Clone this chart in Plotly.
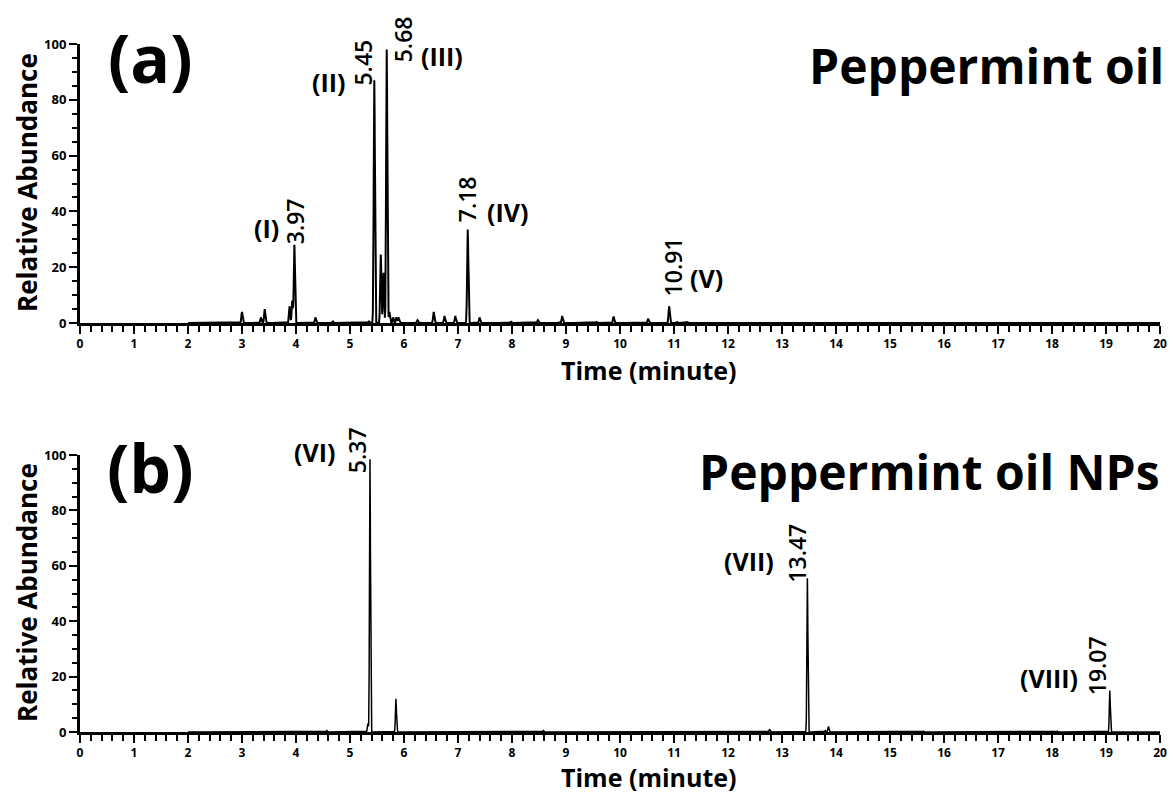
import numpy as np
import plotly.graph_objects as go

# ---------------- data ----------------
# Panel (a): Peppermint oil  (retention time in minutes, relative abundance)
oil_times = [3.00, 3.35, 3.42, 3.88, 3.93, 3.97, 4.36, 4.68, 5.35, 5.45, 5.57, 5.62, 5.68,
             5.73, 5.80, 5.86, 5.90, 6.25, 6.55, 6.75, 6.95, 7.18, 7.40, 7.98, 8.48, 8.93,
             9.57, 9.88, 10.52, 10.91, 11.05, 11.24]
oil_heights = [4.0, 2.0, 5.0, 6.0, 8.0, 28.0, 2.0, 0.6, 0.6, 87.0, 24.5, 18.0, 98.0,
               4.0, 2.0, 2.0, 2.0, 1.0, 4.0, 2.5, 2.5, 33.5, 2.0, 0.5, 1.0, 2.5,
               0.4, 2.3, 1.5, 6.0, 0.4, 0.4]

# Panel (b): Peppermint oil NPs
np_times = [4.57, 5.33, 5.37, 5.85, 8.58, 12.77, 13.47, 13.80, 13.86, 15.62, 18.10, 19.07]
np_heights = [0.5, 3.0, 98.5, 12.0, 0.5, 1.0, 55.5, 0.5, 2.0, 0.3, 0.3, 15.0]

run_start, run_end = 2.0, 20.0

# labelled peaks: retention-time text and compound label
oil_labels = [("3.97", "(I)"), ("5.45", "(II)"), ("5.68", "(III)"), ("7.18", "(IV)"), ("10.91", "(V)")]
np_labels = [("5.37", "(VI)"), ("13.47", "(VII)"), ("19.07", "(VIII)")]

x_ticks = list(range(0, 21))
y_ticks = [0, 20, 40, 60, 80, 100]


def trace_from_peaks(times, heights, sigma):
    x = np.arange(run_start, run_end + 1e-9, 0.002)
    y = np.zeros_like(x)
    for t, h in zip(times, heights):
        y += h * np.exp(-0.5 * ((x - t) / sigma) ** 2)
    return x, y


FONT = "Open Sans"
W, H = 1173, 794

fig = go.Figure()
xa, ya = trace_from_peaks(oil_times, oil_heights, 0.011)
xb, yb = trace_from_peaks(np_times, np_heights, 0.009)
fig.add_trace(go.Scatter(x=xa, y=ya, mode="lines", line=dict(color="black", width=2),
                         xaxis="x", yaxis="y", hoverinfo="skip", showlegend=False))
fig.add_trace(go.Scatter(x=xb, y=yb, mode="lines", line=dict(color="black", width=1.5),
                         xaxis="x2", yaxis="y2", hoverinfo="skip", showlegend=False))

x0p, x1p = 80 / W, 1160 / W


def ydom(top_px, bot_px):
    return [1 - bot_px / H, 1 - top_px / H]


xaxis_common = dict(
    range=[0, 20], tickvals=x_ticks, ticktext=[str(v) for v in x_ticks], automargin=False,
    showline=True, linecolor="black", linewidth=3, ticks="outside", ticklen=8,
    tickwidth=2, tickcolor="black", showgrid=False, zeroline=False,
    tickfont=dict(family=FONT, size=12, color="black", weight="bold"),
    minor=dict(dtick=0.2, ticks="outside", ticklen=6, tickwidth=1.5, tickcolor="black", showgrid=False),
)
yaxis_common = dict(
    range=[0, 100], tickvals=y_ticks, showline=True, linecolor="black", linewidth=3, automargin=False,
    ticks="outside", ticklen=8, tickwidth=2, tickcolor="black", showgrid=False, zeroline=False,
    tickfont=dict(family=FONT, size=13, color="black", weight="bold"),
    minor=dict(dtick=5, ticks="outside", ticklen=5, tickwidth=1.5, tickcolor="black", showgrid=False),
)

fig.update_layout(
    width=W, height=H, margin=dict(l=0, r=0, t=0, b=0),
    paper_bgcolor="white", plot_bgcolor="white",
    xaxis=dict(domain=[x0p, x1p], anchor="y", **xaxis_common),
    yaxis=dict(domain=ydom(44, 323), anchor="x", **yaxis_common),
    xaxis2=dict(domain=[x0p, x1p], anchor="y2", **xaxis_common),
    yaxis2=dict(domain=ydom(455, 732), anchor="x2", **yaxis_common),
)

ann = []


def paper_text(text, px, py, size, xanchor="center", angle=0):
    ann.append(dict(text=text, xref="paper", yref="paper", x=px / W, y=1 - py / H,
                    xanchor=xanchor, yanchor="middle", textangle=angle, showarrow=False,
                    font=dict(family=FONT, size=size, color="black", weight="bold")))


# panel letters and titles
paper_text("(a)", 150, 57, 66)
paper_text("(b)", 150, 467, 66)
paper_text("Peppermint oil", 1166, 66, 48, xanchor="right")
paper_text("Peppermint oil NPs", 1162, 472, 48, xanchor="right")
# axis titles
paper_text("Time (minute)", 649, 370, 25)
paper_text("Time (minute)", 649, 777, 25)
paper_text("Relative Abundance", 27, 183, 26, angle=-90)
paper_text("Relative Abundance", 27, 593, 26, angle=-90)


def peak_height(times, heights, rt):
    i = min(range(len(times)), key=lambda k: abs(times[k] - float(rt)))
    return heights[i]


# label offsets in pixels from the peak apex: (rt dx, rt dy, name dx, name dy)
oil_place = {"3.97": (0, 24, -28, 17), "5.45": (-11, 18, -45, -2), "5.68": (16, 10, 55, -6),
             "7.18": (-1, 30, 40, 18), "10.91": (4, 39, 37, 28)}
np_place = {"5.37": (-13, 9, -55, 7), "13.47": (-10, 25, -58, 17), "19.07": (-12, 25, -61, 12)}


def add_labels(labels, times, heights, xref, yref, place):
    for rt, name in labels:
        h = peak_height(times, heights, rt)
        dx, dy, ndx, ndy = place[rt]
        ann.append(dict(text=rt, x=float(rt), y=h, xref=xref, yref=yref,
                        textangle=-90, xanchor="center", yanchor="middle", showarrow=False,
                        xshift=dx, yshift=dy,
                        font=dict(family=FONT, size=23, color="black", weight=600)))
        ann.append(dict(text=name, x=float(rt), y=h, xref=xref, yref=yref,
                        xanchor="center", yanchor="middle", showarrow=False,
                        xshift=ndx, yshift=ndy,
                        font=dict(family=FONT, size=25, color="black", weight="bold")))


add_labels(oil_labels, oil_times, oil_heights, "x", "y", oil_place)
add_labels(np_labels, np_times, np_heights, "x2", "y2", np_place)

fig.update_layout(annotations=ann)
fig.write_html("out.html", config={"displayModeBar": False},
               post_script="document.body.style.margin='0';document.body.style.overflow='hidden';")
